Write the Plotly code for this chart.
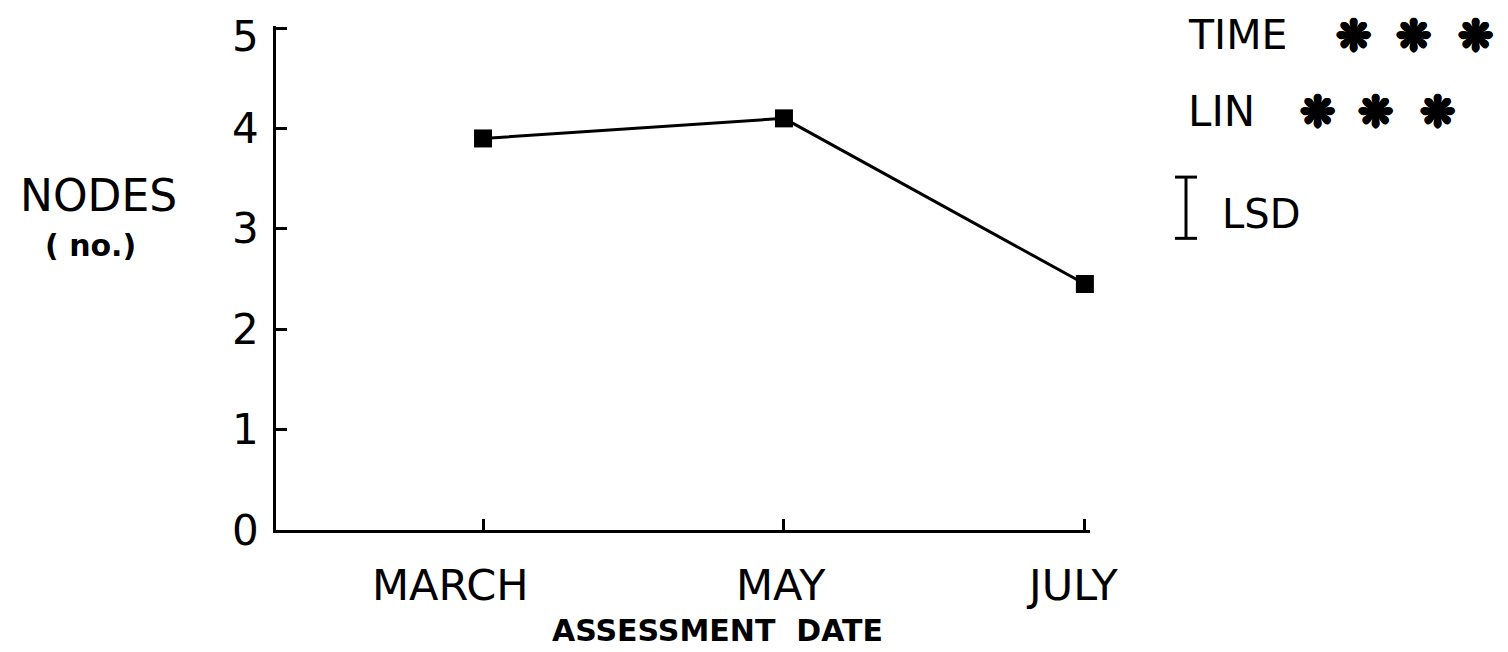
import plotly.graph_objects as go

dates = ["MARCH", "MAY", "JULY"]
nodes = [3.9, 4.1, 2.45]
y_ticks = [0, 1, 2, 3, 4, 5]
y_tick_labels = ["0", "1", "2", "3", "4", "5"]
lsd_value = 0.61
lsd_center = 3.21

xpos = list(range(len(dates)))
FONT = "DejaVu Sans"

# plot area in screen pixels (page is offset by the 8px body margin)
SX0, SX1, SY0, SY1 = 276, 1090, 26, 530

fig = go.Figure()
fig.add_trace(go.Scatter(
    x=xpos, y=nodes, mode="lines+markers",
    line=dict(color="black", width=3),
    marker=dict(symbol="square", size=18, color="black"),
    cliponaxis=False, showlegend=False, hoverinfo="skip"))

fig.update_layout(
    width=1508, height=652,
    margin=dict(l=SX0 - 8, r=1508 - (SX1 - 8), t=SY0 - 8, b=652 - (SY1 - 8)),
    paper_bgcolor="white", plot_bgcolor="white",
    font=dict(family=FONT, color="black"),
    xaxis=dict(range=[-0.688, 2.017], showgrid=False, zeroline=False,
               showline=True, linecolor="black", linewidth=3,
               tickmode="array", tickvals=xpos, ticktext=[""] * len(xpos),
               ticks="inside", ticklen=11, tickwidth=3, tickcolor="black"),
    yaxis=dict(range=[0, 5.02], showgrid=False, zeroline=False,
               showline=True, linecolor="black", linewidth=3,
               tickmode="array", tickvals=y_ticks, showticklabels=False,
               ticks="inside", ticklen=11, tickwidth=3, tickcolor="black",
               automargin=False),
)

# y tick labels (hand-lettered positions: the top label sits a bit low)
y_label_shift = {5: -8}
for v, t in zip(y_ticks, y_tick_labels):
    fig.add_annotation(x=0, y=v, xref="paper", yref="y", text=t, showarrow=False,
                       xanchor="right", yanchor="middle", xshift=-15,
                       yshift=y_label_shift.get(v, 0),
                       font=dict(size=42, family=FONT))

def py_(sy):
    return (SY1 - sy) / float(SY1 - SY0)

def px_(sx):
    return (sx - SX0) / float(SX1 - SX0)

def ann(sx, sy, text, size, xanchor="center", bold=False, shadow=None):
    f = dict(size=size, family=FONT)
    if shadow:
        f["shadow"] = shadow
    fig.add_annotation(x=px_(sx), y=py_(sy), xref="paper", yref="paper",
                       text=f"<b>{text}</b>" if bold else text, showarrow=False,
                       xanchor=xanchor, yanchor="middle", font=f)

# x category labels
label_shifts = [-33, -3, -13]
for i, (d, s) in enumerate(zip(dates, label_shifts)):
    fig.add_annotation(x=xpos[i], y=py_(585), xref="x", yref="paper",
                       text=d, showarrow=False, xshift=s, xanchor="center", yanchor="middle",
                       font=dict(size=43, family=FONT))

ann(717, 630, "ASSESSMENT  DATE", 30, bold=True)
ann(98, 195, "NODES", 44)
ann(90, 245, "( no.)", 30, bold=True)

# significance key
STAR_SHADOW = ("1.5px 0 0 black, -1.5px 0 0 black, 0 1.5px 0 black, 0 -1.5px 0 black, "
               "1px 1px 0 black, -1px -1px 0 black, 1px -1px 0 black, -1px 1px 0 black")
ann(1186, 35, "TIME", 41, xanchor="left")
for cx in [1353, 1413, 1475]:
    ann(cx, 35, "❋", 42, bold=True, shadow=STAR_SHADOW)
ann(1186, 112, "LIN", 42, xanchor="left")
for cx in [1317, 1375, 1437]:
    ann(cx, 112, "❋", 42, bold=True, shadow=STAR_SHADOW)
ann(1220, 214, "LSD", 40, xanchor="left")

# LSD bar (length in data units on the y axis)
lsd_x = px_(1186)
half_serif = 11 / float(SX1 - SX0)
for (x0, x1, y0, y1) in [
    (lsd_x, lsd_x, lsd_center - lsd_value / 2, lsd_center + lsd_value / 2),
    (lsd_x - half_serif, lsd_x + half_serif, lsd_center - lsd_value / 2, lsd_center - lsd_value / 2),
    (lsd_x - half_serif, lsd_x + half_serif, lsd_center + lsd_value / 2, lsd_center + lsd_value / 2),
]:
    fig.add_shape(type="line", xref="paper", yref="y", x0=x0, x1=x1, y0=y0, y1=y1,
                  line=dict(color="black", width=3))

fig.write_html("out.html")
